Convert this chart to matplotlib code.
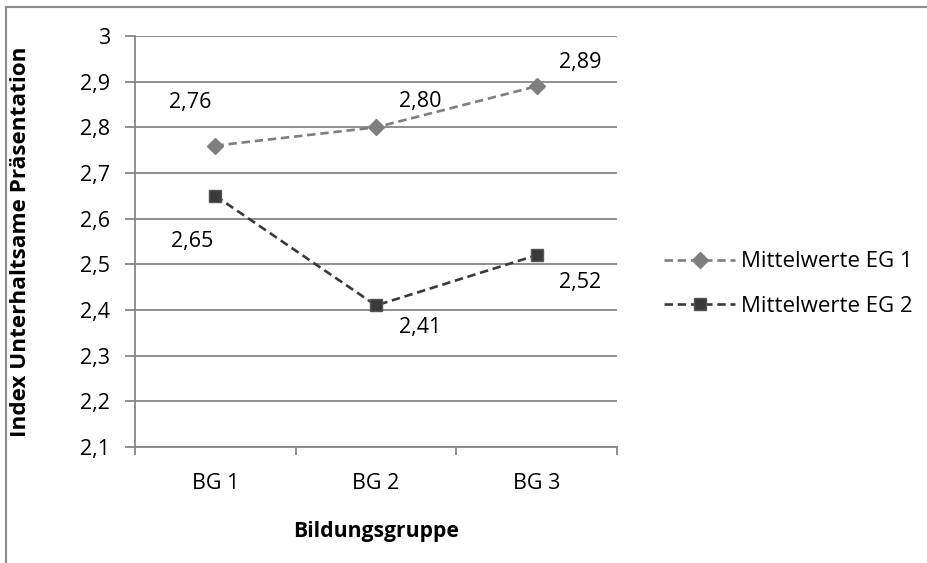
import matplotlib
matplotlib.use("Agg")
import matplotlib.pyplot as plt
from matplotlib.lines import Line2D

categories = ["BG 1", "BG 2", "BG 3"]
eg1 = [2.76, 2.80, 2.89]
eg2 = [2.65, 2.41, 2.52]
labels_eg1 = ["2,76", "2,80", "2,89"]
labels_eg2 = ["2,65", "2,41", "2,52"]
series_names = ["Mittelwerte EG 1", "Mittelwerte EG 2"]
yticks = [2.1, 2.2, 2.3, 2.4, 2.5, 2.6, 2.7, 2.8, 2.9, 3.0]
ytick_labels = ["2,1", "2,2", "2,3", "2,4", "2,5", "2,6", "2,7", "2,8", "2,9", "3"]

plt.rcParams['font.family'] = ['Open Sans', 'DejaVu Sans']

FS = 15.5
W, H = 927, 563
fig = plt.figure(figsize=(W / 100, H / 100), dpi=100)
ax = fig.add_axes([135 / W, 1 - 447 / H, (617 - 135) / W, (447 - 36) / H])

c1 = "#7f7f7f"
c2 = "#3a3a3a"
grid_c = "#868686"

x = list(range(len(categories)))
l1, = ax.plot(x, eg1, color=c1, lw=1.9, dashes=(3.2, 1.8), marker="D", ms=8,
              mfc=c1, mec=c1, zorder=3)
l2, = ax.plot(x, eg2, color=c2, lw=1.9, dashes=(3.2, 1.8), marker="s", ms=8.5,
              mfc=c2, mec="#555555", zorder=3)

ax.set_xlim(-0.5, 2.5)
ax.set_ylim(2.1, 3.0)
ax.set_yticks(yticks)
ax.set_yticklabels(ytick_labels, fontsize=FS)
ax.set_xticks(x)
ax.set_xticklabels(categories, fontsize=FS)
ax.set_xticks([-0.5, 0.5, 1.5, 2.5], minor=True)
ax.tick_params(axis="x", which="major", length=0, pad=19)
ax.tick_params(axis="x", which="minor", length=6, width=1.3, color=grid_c, direction="out")
ax.tick_params(axis="y", length=7, width=1.3, color=grid_c, direction="out", pad=11)

ax.grid(axis="y", color=grid_c, lw=1.3, zorder=0)
ax.set_axisbelow(True)
for s in ["top", "right"]:
    ax.spines[s].set_visible(False)
for s in ["left", "bottom"]:
    ax.spines[s].set_color(grid_c)
    ax.spines[s].set_linewidth(1.3)

# data labels (offsets from the data points)
off1 = [(-0.158, 0.094), (0.274, 0.056), (0.27, 0.051)]
off2 = [(-0.145, -0.099), (0.274, -0.049), (0.27, -0.059)]
for i in range(len(categories)):
    ax.text(x[i] + off1[i][0], eg1[i] + off1[i][1], labels_eg1[i], ha="center", va="center", fontsize=FS)
    ax.text(x[i] + off2[i][0], eg2[i] + off2[i][1], labels_eg2[i], ha="center", va="center", fontsize=FS)

ax.set_ylabel("Index Unterhaltsame Präsentation", fontsize=FS + 0.7, fontweight="bold")
ax.yaxis.set_label_coords((31 - 135) / 482, 0.5)
ax.set_xlabel("Bildungsgruppe", fontsize=FS - 0.3, fontweight="bold")
ax.xaxis.set_label_coords(0.5, (447 - 521) / 411)

fig.legend([l1, l2], series_names, loc="center left", bbox_to_anchor=(644 / W, 1 - 284 / H),
           frameon=False, fontsize=FS + 0.5, handlelength=3.2, handletextpad=0.25, labelspacing=1.05)

# outer chart border (left and top visible)
fig.add_artist(Line2D([6 / W, 6 / W], [0, 1 - 7 / H], color="#8c8c8c", lw=1.5, transform=fig.transFigure))
fig.add_artist(Line2D([6 / W, 1], [1 - 7 / H, 1 - 7 / H], color="#8c8c8c", lw=1.5, transform=fig.transFigure))

fig.savefig("out.png", dpi=100)
